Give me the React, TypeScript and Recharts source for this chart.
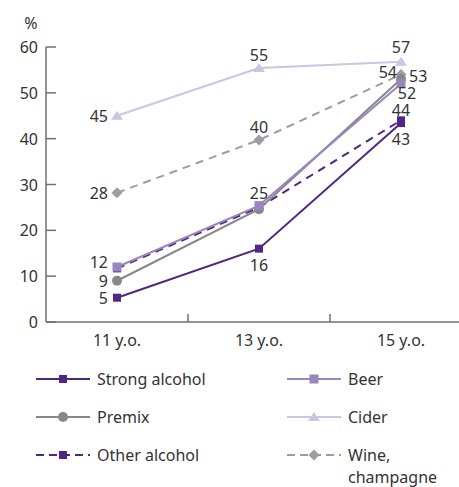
import { LineChart, Line, XAxis, YAxis, LabelList, Label } from "recharts";

// age groups on the x axis
const CATEGORIES = ["11 y.o.", "13 y.o.", "15 y.o."];

// share of pupils, %
const STRONG = [5.3, 16, 43.4];
const BEER = [12, 25.4, 52];
const PREMIX = [9, 24.6, 53];
const CIDER = [45, 55.4, 56.8];
const OTHER = [11.7, 25, 44];
const WINE = [28.2, 39.7, 54];

const Y_TICKS = [0, 10, 20, 30, 40, 50, 60];

const FONT = "'Noto Sans', sans-serif";
const TEXT = "#333333";
const AXIS = "#707070";

type Shape = "square" | "bigSquare" | "circle" | "triangle" | "diamond";

const SERIES: {
  key: string;
  name: string;
  color: string;
  dashed: boolean;
  shape: Shape;
  labels: (string | null)[];
}[] = [
  { key: "strong", name: "Strong alcohol", color: "#4f2683", dashed: false, shape: "square", labels: ["left", "bottom", "bottom"] },
  { key: "beer", name: "Beer", color: "#9a85bd", dashed: false, shape: "bigSquare", labels: ["leftUp", "top", "belowRight"] },
  { key: "premix", name: "Premix", color: "#87878a", dashed: false, shape: "circle", labels: ["left", null, "right"] },
  { key: "cider", name: "Cider", color: "#cdc4e1", dashed: false, shape: "triangle", labels: ["left", "top", "topHigh"] },
  { key: "other", name: "Other alcohol", color: "#4f2683", dashed: true, shape: "square", labels: [null, null, "topNear"] },
  { key: "wine", name: "Wine,\nchampagne", color: "#9d9d9f", dashed: true, shape: "diamond", labels: ["left", "top", "leftAbove"] },
];

// draw order (beer on top)
const DRAW_ORDER = ["cider", "wine", "strong", "other", "premix", "beer"];

const data = CATEGORIES.map((c, i) => ({
  x: i + 0.5,
  strong: STRONG[i],
  beer: BEER[i],
  premix: PREMIX[i],
  cider: CIDER[i],
  other: OTHER[i],
  wine: WINE[i],
}));

// label placement: dx, dy (of text centre), anchor
const SPOTS: Record<string, [number, number, "start" | "middle" | "end"]> = {
  left: [-9, 0, "end"],
  leftUp: [-9, -5, "end"],
  top: [0, -13, "middle"],
  topHigh: [0, -15, "middle"],
  topNear: [0, -10, "middle"],
  bottom: [0, 16, "middle"],
  right: [8, -3, "start"],
  belowRight: [6, 9, "middle"],
  leftAbove: [-4, -3, "end"],
};

function marker(shape: Shape, cx: number, cy: number, color: string, key?: any) {
  if (shape === "square") return <rect key={key} x={cx - 4} y={cy - 4} width={8} height={8} fill={color} />;
  if (shape === "bigSquare") return <rect key={key} x={cx - 4.5} y={cy - 4.5} width={9} height={9} fill={color} />;
  if (shape === "circle") return <circle key={key} cx={cx} cy={cy} r={5} fill={color} />;
  if (shape === "triangle")
    return <path key={key} d={`M${cx},${cy - 5} L${cx + 6},${cy + 4} L${cx - 6},${cy + 4} Z`} fill={color} />;
  return <path key={key} d={`M${cx},${cy - 5.5} L${cx + 5.5},${cy} L${cx},${cy + 5.5} L${cx - 5.5},${cy} Z`} fill={color} />;
}

const makeLabel = (spots: (string | null)[]) => (props: any) => {
  const { x, y, value, index } = props;
  const spot = spots[index];
  if (!spot) return null;
  const [dx, dy, anchor] = SPOTS[spot];
  return (
    <text
      x={x + dx}
      y={y + dy}
      textAnchor={anchor}
      dominantBaseline="central"
      fill={TEXT}
      fontSize={16}
      fontFamily={FONT}
    >
      {Math.round(value)}
    </text>
  );
};

const YTick = (props: any) => {
  const { x, y, payload } = props;
  return (
    <g>
      <line x1={x + 8} x2={x + 18} y1={y} y2={y} stroke={AXIS} strokeWidth={1.5} />
      <text x={x} y={y} textAnchor="end" dominantBaseline="central" fill={TEXT} fontSize={16} fontFamily={FONT}>
        {payload.value}
      </text>
    </g>
  );
};

const XTick = (props: any) => {
  const { x, y, payload } = props;
  const v = payload.value;
  if (Number.isInteger(v)) {
    return <line x1={x} x2={x} y1={y} y2={y - 8} stroke={AXIS} strokeWidth={1.5} />;
  }
  return (
    <text x={x} y={y + 18} textAnchor="middle" dominantBaseline="central" fill={TEXT} fontSize={16} fontFamily={FONT}>
      {CATEGORIES[Math.floor(v)]}
    </text>
  );
};

const LegendBox = () => (
  <div
    style={{
      position: "absolute",
      top: 368,
      left: 0,
      width: 459,
      display: "grid",
      gridTemplateColumns: "251px 172px",
      paddingLeft: 36,
      fontFamily: FONT,
      fontSize: 16,
      color: TEXT,
    }}
  >
    {SERIES.map((s) => (
      <div key={s.key} style={{ display: "flex", alignItems: "flex-start", height: 38 }}>
        <svg width={61} height={20} style={{ flex: "none", marginTop: 1 }}>
          <line
            x1={0}
            x2={54}
            y1={10}
            y2={10}
            stroke={s.color}
            strokeWidth={2}
            strokeDasharray={s.dashed ? "8 5" : undefined}
          />
          {marker(s.shape, 27, 10, s.color)}
        </svg>
        <span style={{ whiteSpace: "pre", lineHeight: "22px" }}>{s.name}</span>
      </div>
    ))}
  </div>
);

export default function App() {
  return (
    <div style={{ position: "absolute", left: 0, top: 0, width: 459, height: 487, overflow: "hidden", background: "#fff" }}>
      <LineChart width={480} height={487} data={data} margin={{ top: 47, right: 8, bottom: 135, left: 0 }}>
        <XAxis
          dataKey="x"
          type="number"
          domain={[0, 3]}
          ticks={[0.5, 1, 1.5, 2, 2.5]}
          interval={0}
          tickLine={false}
          tickSize={0}
          tickMargin={0}
          tick={<XTick />}
          stroke={AXIS}
          strokeWidth={1.5}
          height={30}
        />
        <YAxis
          type="number"
          domain={[0, 60]}
          ticks={Y_TICKS}
          interval={0}
          width={46}
          tickLine={false}
          tickSize={0}
          tickMargin={8}
          tick={<YTick />}
          stroke={AXIS}
          strokeWidth={1.5}
        >
          <Label value="%" position="top" offset={18} dx={8} fill={TEXT} fontSize={16} fontFamily={FONT} />
        </YAxis>
        {DRAW_ORDER.map((k) => {
          const s = SERIES.find((t) => t.key === k)!;
          return (
            <Line
              key={s.key}
              dataKey={s.key}
              name={s.name}
              stroke={s.color}
              strokeWidth={2}
              strokeDasharray={s.dashed ? "8 6" : undefined}
              dot={(p: any) => marker(s.shape, p.cx, p.cy, s.color, p.index)}
              activeDot={false}
              isAnimationActive={false}
            >
              <LabelList dataKey={s.key} content={makeLabel(s.labels)} />
            </Line>
          );
        })}
      </LineChart>
      <LegendBox />
    </div>
  );
}
